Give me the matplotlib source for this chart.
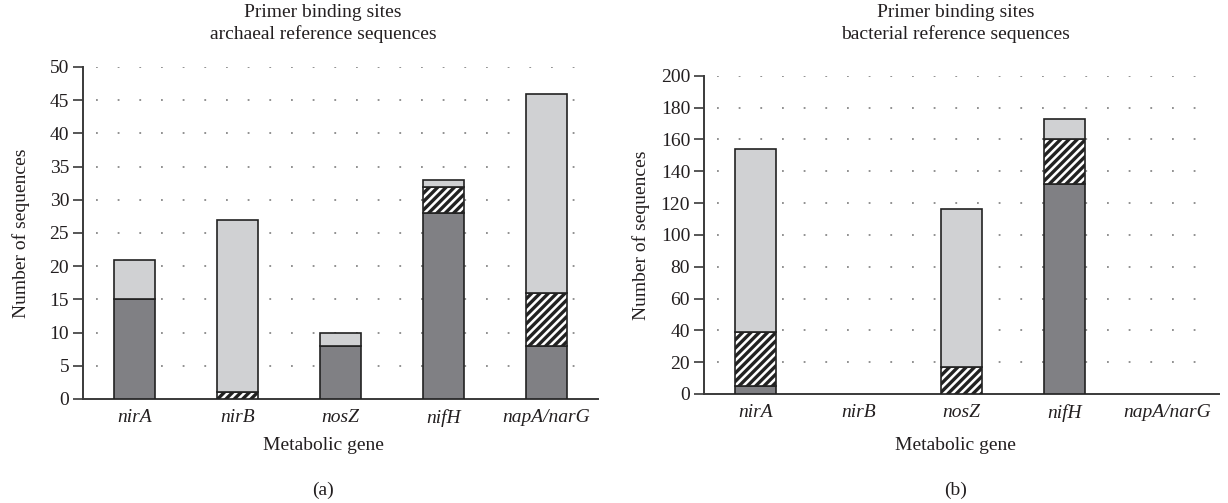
import matplotlib
matplotlib.use("Agg")
import matplotlib.pyplot as plt
import numpy as np

plt.rcParams['font.family'] = ['Liberation Serif', 'DejaVu Serif']
plt.rcParams['hatch.linewidth'] = 2.4
plt.rcParams['hatch.color'] = 'black'

genes = ["nirA", "nirB", "nosZ", "nifH", "napA/narG"]

# archaeal reference sequences
arch_dark = [15, 0, 8, 28, 8]
arch_hatch = [0, 1, 0, 4, 8]
arch_light = [6, 26, 2, 1, 30]

# bacterial reference sequences
bact_dark = [5, 0, 0, 132, 0]
bact_hatch = [34, 0, 17, 28, 0]
bact_light = [115, 0, 99, 13, 0]

dark_col = "#808084"
light_col = "#d0d1d3"
edge_col = "#222222"
text_col = "#231f20"
fs = 14

fig = plt.figure(figsize=(12.28, 5.03), dpi=100)
ax1 = fig.add_axes([0.0676, 0.2068, 0.4194, 0.66])
ax2 = fig.add_axes([0.5733, 0.2167, 0.4194, 0.6328])


def draw(ax, dark, hatch, light, ymax, step, lpad):
    x = np.arange(len(genes))
    dark = np.array(dark)
    hatch = np.array(hatch)
    light = np.array(light)
    w = 0.4
    kw = dict(width=w, edgecolor=edge_col, linewidth=1.2, zorder=3)
    for i in range(len(genes)):
        if dark[i] > 0:
            ax.bar(x[i], dark[i], color=dark_col, **kw)
        if hatch[i] > 0:
            ax.bar(x[i], hatch[i], bottom=dark[i], color="white",
                   hatch="////", **kw)
        if light[i] > 0:
            ax.bar(x[i], light[i], bottom=dark[i] + hatch[i],
                   color=light_col, **kw)
    ax.set_xlim(-0.5, len(genes) - 0.5)
    ax.set_ylim(0, ymax)
    ax.set_yticks(np.arange(0, ymax + 1, step))
    ax.set_xticks(x)
    ax.set_xticklabels(genes, style="italic", fontsize=fs, color=text_col)
    ax.tick_params(axis="x", length=0, pad=7)
    ax.tick_params(axis="y", length=7, width=1.2, color="#3a3a3a",
                   labelsize=fs, labelcolor=text_col, pad=3)
    for s in ["top", "right"]:
        ax.spines[s].set_visible(False)
    for s in ["left", "bottom"]:
        ax.spines[s].set_color("#3a3a3a")
        ax.spines[s].set_linewidth(1.4)
    for v in np.arange(step, ymax + 1, step):
        ax.axhline(v, xmin=0.025, xmax=0.98, color="#888888",
                   linestyle=(0, (1, 11)), linewidth=1.3, zorder=1)
    ax.set_ylabel("Number of sequences", fontsize=fs, color=text_col,
                  labelpad=lpad)


draw(ax1, arch_dark, arch_hatch, arch_light, 50, 5, 14)
draw(ax2, bact_dark, bact_hatch, bact_light, 200, 20, 8)

fig.text(0.263, 0.976, "Primer binding sites", ha="center", va="center",
         fontsize=fs, color=text_col)
fig.text(0.263, 0.932, "archaeal reference sequences", ha="center",
         va="center", fontsize=fs, color=text_col)
fig.text(0.778, 0.976, "Primer binding sites", ha="center", va="center",
         fontsize=fs, color=text_col)
fig.text(0.778, 0.932, "bacterial reference sequences", ha="center",
         va="center", fontsize=fs, color=text_col)

fig.text(0.263, 0.114, "Metabolic gene", ha="center", va="center",
         fontsize=fs, color=text_col)
fig.text(0.778, 0.114, "Metabolic gene", ha="center", va="center",
         fontsize=fs, color=text_col)
fig.text(0.263, 0.025, "(a)", ha="center", va="center", fontsize=fs,
         color=text_col)
fig.text(0.778, 0.025, "(b)", ha="center", va="center", fontsize=fs,
         color=text_col)

fig.savefig("out.png", dpi=100)
